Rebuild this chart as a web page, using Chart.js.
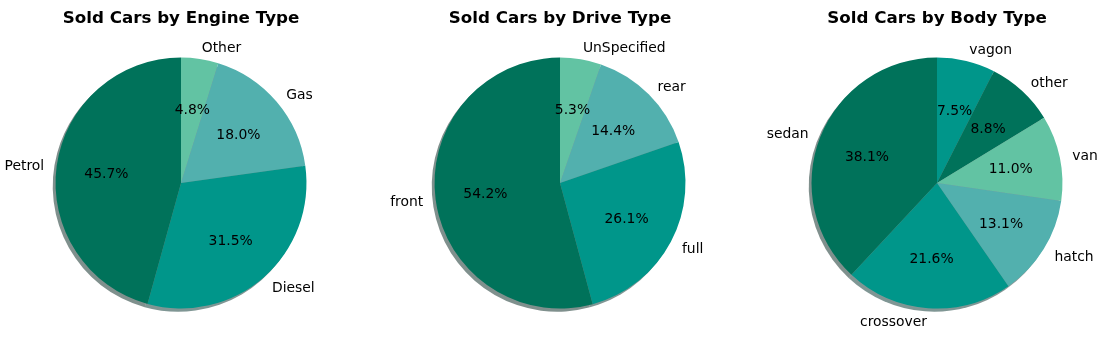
<!DOCTYPE html>
<html>
<head>
<meta charset="utf-8">
<script src="https://cdn.jsdelivr.net/npm/chart.js@4.4.1/dist/chart.umd.min.js"></script>
<style>
  html, body { margin: 0; padding: 0; background: #fff; width: 1102px; height: 355px; overflow: hidden; position: relative; }
  .wrap { position: absolute; top: 0; width: 378px; height: 355px; }
</style>
</head>
<body>
<div class="wrap" style="left:-8px"><canvas id="c1" width="378" height="355"></canvas></div>
<div class="wrap" style="left:370.5px"><canvas id="c2" width="378" height="355"></canvas></div>
<div class="wrap" style="left:748.3px"><canvas id="c3" width="378" height="355"></canvas></div>
<script>
// ---- Data (listed in matplotlib order: counter-clockwise from 12 o'clock) ----
const engineLabels = ['Petrol', 'Diesel', 'Gas', 'Other'];
const engineValues = [45.7, 31.5, 18.0, 4.8];

const driveLabels = ['front', 'full', 'rear', 'UnSpecified'];
const driveValues = [54.2, 26.1, 14.4, 5.3];

const bodyLabels = ['sedan', 'crossover', 'hatch', 'van', 'other', 'vagon'];
const bodyValues = [38.1, 21.6, 13.1, 11.0, 8.8, 7.5];

const titles = ['Sold Cars by Engine Type', 'Sold Cars by Drive Type', 'Sold Cars by Body Type'];

const palette = ['#00725a', '#00968a', '#52b0ae', '#62c3a3'];
const shadowPalette = ['rgba(0,34,27,0.5)', 'rgba(0,45,41,0.5)', 'rgba(25,53,52,0.5)', 'rgba(30,59,49,0.5)'];

const FONT = "'DejaVu Sans', sans-serif";

const piePlugin = {
  id: 'mplPie',
  beforeDatasetsDraw(chart) {
    const ctx = chart.ctx;
    const meta = chart.getDatasetMeta(0);
    const shadows = chart.data.datasets[0].shadowColors;
    ctx.save();
    meta.data.forEach((arc, i) => {
      const p = arc.getProps(['x', 'y', 'startAngle', 'endAngle', 'outerRadius'], true);
      const ox = -2.8, oy = 3.2;
      ctx.beginPath();
      ctx.moveTo(p.x + ox, p.y + oy);
      ctx.arc(p.x + ox, p.y + oy, p.outerRadius, p.startAngle, p.endAngle);
      ctx.closePath();
      ctx.fillStyle = shadows[i];
      ctx.fill();
    });
    ctx.restore();
  },
  afterDatasetsDraw(chart) {
    const ctx = chart.ctx;
    const meta = chart.getDatasetMeta(0);
    const ds = chart.data.datasets[0];
    const total = ds.data.reduce((a, b) => a + b, 0);
    const dy = 1.5;
    ctx.save();
    ctx.font = '13.9px ' + FONT;
    ctx.fillStyle = '#000';
    ctx.textBaseline = 'middle';
    meta.data.forEach((arc, i) => {
      const p = arc.getProps(['x', 'y', 'startAngle', 'endAngle', 'outerRadius'], true);
      const mid = (p.startAngle + p.endAngle) / 2;
      const c = Math.cos(mid), s = Math.sin(mid);
      // percentage at 0.6 r
      ctx.textAlign = 'center';
      ctx.fillText((ds.data[i] / total * 100).toFixed(1) + '%', p.x + 0.6 * p.outerRadius * c, p.y + 0.6 * p.outerRadius * s + dy);
      // label at 1.1 r
      ctx.textAlign = c > 0 ? 'left' : 'right';
      ctx.fillText(chart.data.labels[i], p.x + 1.1 * p.outerRadius * c, p.y + 1.1 * p.outerRadius * s + dy);
    });
    ctx.restore();
  }
};

function makePie(id, labels, values, title) {
  // Chart.js draws clockwise from the top; matplotlib draws counter-clockwise,
  // so reverse the order (colours follow the original order).
  const cols = labels.map((_, i) => palette[i % palette.length]);
  const sh = labels.map((_, i) => shadowPalette[i % shadowPalette.length]);
  new Chart(document.getElementById(id), {
    type: 'pie',
    data: {
      labels: labels.slice().reverse(),
      datasets: [{
        data: values.slice().reverse(),
        backgroundColor: cols.slice().reverse(),
        borderColor: cols.slice().reverse(),
        borderWidth: 0,
        shadowColors: sh.slice().reverse()
      }]
    },
    options: {
      responsive: false,
      animation: false,
      rotation: 0,
      layout: { padding: { top: 0, bottom: 46.5, left: 63.5, right: 63.5 } },
      plugins: {
        legend: { display: false },
        tooltip: { enabled: false },
        title: {
          display: true,
          text: title,
          color: '#000',
          font: { family: FONT, size: 16.7, weight: 'bold', lineHeight: 1.2 },
          padding: { top: 8.5, bottom: 29 }
        }
      }
    },
    plugins: [piePlugin]
  });
}

makePie('c1', engineLabels, engineValues, titles[0]);
makePie('c2', driveLabels, driveValues, titles[1]);
makePie('c3', bodyLabels, bodyValues, titles[2]);
</script>
</body>
</html>
